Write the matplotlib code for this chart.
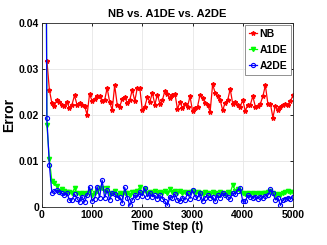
import numpy as np
import matplotlib
matplotlib.use("Agg")
import matplotlib.pyplot as plt

plt.rcParams['font.family'] = ['Liberation Sans', 'DejaVu Sans']

t = list(range(50, 5001, 50))

nb = [np.nan,
      0.0318, 0.0254, 0.0225, 0.0220, 0.0232, 0.0228, 0.0222, 0.0220, 0.0228, 0.0214,
      0.0222, 0.0242, 0.0222, 0.0226, 0.0222, 0.0220, 0.0200, 0.0245, 0.0230, 0.0234,
      0.0240, 0.0240, 0.0230, 0.0232, 0.0258, 0.0228, 0.0210, 0.0264, 0.0222, 0.0218,
      0.0234, 0.0238, 0.0226, 0.0232, 0.0254, 0.0230, 0.0258, 0.0258, 0.0210, 0.0218,
      0.0238, 0.0228, 0.0248, 0.0222, 0.0244, 0.0224, 0.0232, 0.0252, 0.0246, 0.0236,
      0.0244, 0.0246, 0.0212, 0.0228, 0.0214, 0.0224, 0.0218, 0.0240, 0.0208, 0.0214,
      0.0218, 0.0244, 0.0236, 0.0226, 0.0222, 0.0206, 0.0266, 0.0248, 0.0240, 0.0232,
      0.0210, 0.0226, 0.0232, 0.0256, 0.0224, 0.0228, 0.0222, 0.0218, 0.0232, 0.0208,
      0.0222, 0.0222, 0.0240, 0.0218, 0.0220, 0.0224, 0.0240, 0.0264, 0.0224, 0.0224,
      0.0194, 0.0220, 0.0210, 0.0216, 0.0222, 0.0224, 0.0222, 0.0230, 0.0242]

a1de = [0.15,
        0.0178, 0.0103, 0.0055, 0.0052, 0.0045, 0.0035, 0.0038, 0.0035, 0.0032, 0.0033,
        0.0030, 0.0040, 0.0030, 0.0028, 0.0030, 0.0028, 0.0030, 0.0035, 0.0025, 0.0030,
        0.0035, 0.0040, 0.0040, 0.0035, 0.0040, 0.0028, 0.0030, 0.0035, 0.0025, 0.0030,
        0.0028, 0.0030, 0.0030, 0.0025, 0.0032, 0.0032, 0.0035, 0.0042, 0.0030, 0.0038,
        0.0030, 0.0032, 0.0030, 0.0035, 0.0030, 0.0032, 0.0030, 0.0035, 0.0030, 0.0038,
        0.0033, 0.0035, 0.0030, 0.0035, 0.0030, 0.0032, 0.0030, 0.0033, 0.0035, 0.0030,
        0.0032, 0.0030, 0.0028, 0.0033, 0.0030, 0.0028, 0.0032, 0.0030, 0.0028, 0.0032,
        0.0030, 0.0028, 0.0032, 0.0030, 0.0048, 0.0035, 0.0038, 0.0035, 0.0030, 0.0028,
        0.0030, 0.0028, 0.0030, 0.0028, 0.0030, 0.0028, 0.0030, 0.0030, 0.0032, 0.0035,
        0.0030, 0.0025, 0.0028, 0.0025, 0.0030, 0.0033, 0.0035, 0.0032, 0.0033]

a2de = [0.15,
        0.0192, 0.0090, 0.0030, 0.0035, 0.0036, 0.0033, 0.0030, 0.0025, 0.0030, 0.0014,
        0.0015, 0.0028, 0.0018, 0.0010, 0.0022, 0.0010, 0.0025, 0.0043, 0.0012, 0.0018,
        0.0044, 0.0020, 0.0058, 0.0020, 0.0036, 0.0015, 0.0030, 0.0028, 0.0020, 0.0022,
        0.0008, 0.0042, 0.0020, 0.0003, 0.0015, 0.0025, 0.0022, 0.0032, 0.0024, 0.0040,
        0.0022, 0.0030, 0.0022, 0.0025, 0.0018, 0.0025, 0.0018, 0.0012, 0.0003, 0.0022,
        0.0020, 0.0028, 0.0015, 0.0012, 0.0020, 0.0015, 0.0030, 0.0018, 0.0036, 0.0022,
        0.0020, 0.0030, 0.0012, 0.0020, 0.0025, 0.0020, 0.0022, 0.0012, 0.0025, 0.0020,
        0.0030, 0.0025, 0.0022, 0.0018, 0.0030, 0.0028, 0.0035, 0.0040, 0.0012, 0.0012,
        0.0025, 0.0022, 0.0020, 0.0022, 0.0018, 0.0022, 0.0020, 0.0024, 0.0025, 0.0038,
        0.0030, 0.0015, 0.0020, 0.0003, 0.0015, 0.0018, 0.0020, 0.0018, 0.0022]

xticks = [0, 1000, 2000, 3000, 4000, 5000]
yticks = [0, 0.01, 0.02, 0.03, 0.04]
ytick_labels = ['0', '0.01', '0.02', '0.03', '0.04']

fig = plt.figure(figsize=(3.27, 2.45), dpi=100)
ax = fig.add_axes([0.128, 0.156, 0.768, 0.751])

ax.plot(t, nb, color='#ff0000', lw=0.9, marker='*', ms=3.2, mec='#ff0000', label='NB')
ax.plot(t, a1de, color='#00ff00', lw=0.9, marker='v', ms=3.0, mec='#00ff00', label='A1DE')
ax.plot(t, a2de, color='#0000ff', lw=0.9, marker='o', ms=3.0, mfc='none', mec='#0000ff', mew=0.8, label='A2DE')

ax.set_xlim(0, 5000)
ax.set_ylim(0, 0.04)
ax.set_xticks(xticks)
ax.set_xticklabels([str(v) for v in xticks])
ax.set_yticks(yticks)
ax.set_yticklabels(ytick_labels)
ax.tick_params(direction='in', length=2.5, width=0.6, labelsize=7.5, pad=2, top=True, right=True)
for lab in ax.get_xticklabels() + ax.get_yticklabels():
    lab.set_fontweight('bold')
ax.grid(True, color='#e6e6e6', lw=0.6)
ax.set_axisbelow(True)
for s in ax.spines.values():
    s.set_linewidth(0.6)
    s.set_color('#262626')

ax.set_title('NB vs. A1DE vs. A2DE', fontsize=8, fontweight='bold', pad=4)
ax.set_xlabel('Time Step (t)', fontsize=8.5, fontweight='bold', labelpad=1)
ax.set_ylabel('Error', fontsize=10, fontweight='bold', labelpad=2)

leg = ax.legend(loc='upper right', prop={'weight': 'bold', 'size': 7.5},
                handlelength=0.8, handletextpad=0.2, borderpad=0.35, labelspacing=0.6,
                fancybox=False, framealpha=1, edgecolor='#808080', borderaxespad=0.2)
leg.get_frame().set_linewidth(0.6)

fig.savefig('out.png', dpi=100)
